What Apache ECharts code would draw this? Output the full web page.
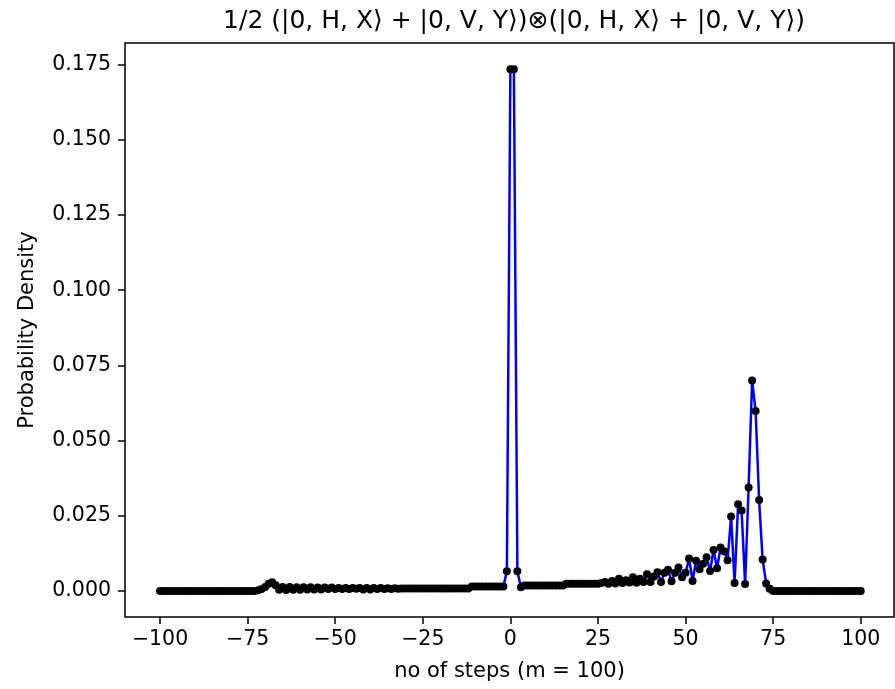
<!DOCTYPE html>
<html>
<head>
<meta charset="utf-8">
<script src="https://cdn.jsdelivr.net/npm/echarts@6/dist/echarts.min.js"></script>
<style>
html,body{margin:0;padding:0;background:#fff;}
#chart{width:895px;height:689px;}
</style>
</head>
<body>
<div id="chart"></div>
<script>
const titleText = '1/2 (|0, H, X\u27E9 + |0, V, Y\u27E9)\u2297(|0, H, X\u27E9 + |0, V, Y\u27E9)';
const xLabel = 'no of steps (m = 100)';
const yLabel = 'Probability Density';
const xTicks = [-100, -75, -50, -25, 0, 25, 50, 75, 100];
const yTicks = [0, 0.025, 0.05, 0.075, 0.1, 0.125, 0.15, 0.175];

// probability at positions -100 .. 100
const probs = [
  0,0,0,0,0,0,0,0,0,0,
  0,0,0,0,0,0,0,0,0,0,
  0,0,0,0,0,0,0,0,0.0002,0.0006,
  0.0013,0.0024,0.0029,0.0019,0.0004,0.0013,0.0003,0.0013,0.0004,0.0012,
  0.0004,0.0012,0.0005,0.0012,0.0005,0.0011,0.0005,0.0011,0.0006,0.0011,
  0.0006,0.0010,0.0006,0.0010,0.0006,0.0010,0.0007,0.0010,0.0005,0.0010,
  0.0005,0.0010,0.0006,0.0010,0.0006,0.0009,0.0006,0.0009,0.0007,0.0008,
  0.0008,0.0008,0.0008,0.0008,0.0008,0.0008,0.0008,0.0008,0.0008,0.0008,
  0.0008,0.0008,0.0008,0.0008,0.0008,0.0008,0.0008,0.0008,0.0008,0.0015,
  0.0015,0.0015,0.0015,0.0015,0.0015,0.0015,0.0015,0.0015,0.0015,0.0065,
  0.1735,0.1735,0.0065,0.0012,0.0018,0.0018,0.0018,0.0018,0.0018,0.0018,
  0.0018,0.0018,0.0018,0.0018,0.0018,0.0018,0.0024,0.0024,0.0024,0.0024,
  0.0024,0.0024,0.0024,0.0024,0.0024,0.0024,0.0026,0.0030,0.0024,0.0033,
  0.0025,0.0040,0.0026,0.0035,0.0028,0.0045,0.0027,0.0040,0.0030,0.0055,
  0.0030,0.0048,0.0062,0.0030,0.0060,0.0070,0.0032,0.0060,0.0078,0.0045,
  0.0060,0.0108,0.0033,0.0100,0.0072,0.0090,0.0112,0.0066,0.0136,0.0075,
  0.0144,0.0132,0.0102,0.0247,0.0026,0.0288,0.0267,0.0023,0.0344,0.0700,
  0.0598,0.0302,0.0104,0.0025,0.0007,0,0,0,0,0,
  0,0,0,0,0,0,0,0,0,0,
  0,0,0,0,0,0,0,0,0,0,
  0
];
const steps = [];
for (let i = 0; i < probs.length; i++) steps.push(-100 + i);
const points = steps.map((s, i) => [s, probs[i]]);

const font = 'DejaVu Sans';
const minus = v => String(v).replace('-', '\u2212');

const chart = echarts.init(document.getElementById('chart'), null, {renderer: 'canvas'});
chart.setOption({
  animation: false,
  backgroundColor: '#fff',
  title: {
    text: titleText,
    left: 509,
    top: 4,
    textAlign: 'center',
    textStyle: {fontFamily: font, fontSize: 25, fontWeight: 'normal', color: '#000'}
  },
  grid: {
    left: 125, right: 1, top: 43, bottom: 72,
    show: true, borderColor: '#000', borderWidth: 1.5, backgroundColor: 'transparent'
  },
  xAxis: {
    type: 'value',
    min: -110, max: 109.5,
    name: xLabel,
    nameLocation: 'middle',
    nameGap: 44,
    nameTextStyle: {fontFamily: font, fontSize: 21, color: '#000'},
    splitLine: {show: false},
    axisLine: {show: false, onZero: false},
    axisTick: {show: true, customValues: xTicks, length: 7, lineStyle: {color: '#000', width: 1.5}},
    axisLabel: {
      customValues: xTicks, margin: 12,
      fontFamily: font, fontSize: 20.5, color: '#000',
      formatter: v => minus(v)
    }
  },
  yAxis: {
    type: 'value',
    min: -0.00868, max: 0.1822,
    name: yLabel,
    nameLocation: 'middle',
    nameGap: 87,
    nameTextStyle: {fontFamily: font, fontSize: 21, color: '#000'},
    splitLine: {show: false},
    axisLine: {show: false, onZero: false},
    axisTick: {show: true, customValues: yTicks, length: 7, lineStyle: {color: '#000', width: 1.5}},
    axisLabel: {
      customValues: yTicks, margin: 14,
      fontFamily: font, fontSize: 20.5, color: '#000',
      formatter: v => v.toFixed(3)
    }
  },
  series: [{
    type: 'line',
    data: points,
    symbol: 'circle',
    symbolSize: 8,
    showAllSymbol: true,
    itemStyle: {color: '#000'},
    lineStyle: {color: '#0000ff', width: 2.5},
    z: 3
  }]
});
</script>
</body>
</html>
